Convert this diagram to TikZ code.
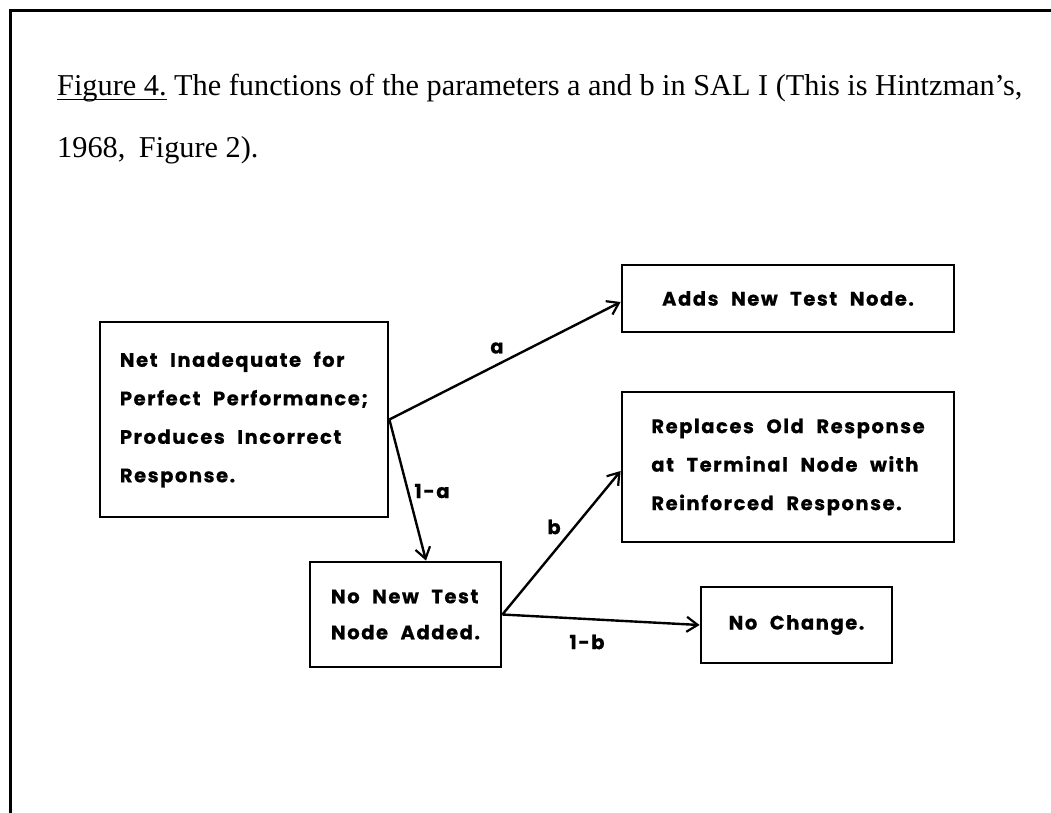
\documentclass[tikz,border=0pt]{standalone}
\usepackage{fontspec}
\setmainfont{Liberation Serif}
\newfontfamily\lettering{Poppins}[LetterSpace=8, WordSpace=2.2, BoldFeatures={FakeBold=0.6}]
\usetikzlibrary{arrows.meta,calc}

% underline drawn as a rule through the descenders
\newcommand\capul[1]{\setbox0\hbox{#1}\rlap{\rule[-5pt]{\wd0}{1.4pt}}\box0}

\tikzset{
  frameline/.style={line width=3pt, line cap=rect},
  caption/.style={anchor=base west, inner sep=0pt, font=\fontsize{30.3}{36}\selectfont},
  stagebox/.style={draw, line width=2.8pt, align=left, inner sep=0pt,
    font=\lettering\bfseries\fontsize{19.5}{38.5}\selectfont},
  flow/.style={line width=2.4pt, -{Straight Barb[length=11pt,width=15pt,line width=2.2pt]}},
  prob/.style={inner sep=0pt, font=\lettering\bfseries\fontsize{19.5}{20}\selectfont}
}

\begin{document}
\begin{tikzpicture}[x=1pt, y=-1pt]
  \useasboundingbox (0,0) rectangle (1051,812);

  % page frame (top and left edges)
  \coordinate (fr-tl) at (10,10);
  \coordinate (fr-tr) at (1060,10);
  \coordinate (fr-bl) at (10,820);
  \draw[frameline] (fr-tr) -- (fr-tl) -- (fr-bl);

  % caption
  \node[caption] (cap1) at (57,95) {\capul{Figure 4.}\ The functions of the parameters a and b in SAL I (This is Hintzman's,};
  \node[caption] (cap2) at (57,157) {1968,\hspace{0.45em}Figure 2).};

  % stages
  \node[stagebox, minimum width=288pt, minimum height=195pt] (A) at (244,419.5)
    {Net Inadequate for\\Perfect Performance;\\Produces Incorrect\\Response.};
  \node[stagebox, minimum width=332pt, minimum height=67pt] (B) at (788,298.5)
    {Adds New Test Node.};
  \node[stagebox, minimum width=332pt, minimum height=150pt] (C) at (788,467)
    {Replaces Old Response\\at Terminal Node with\\Reinforced Response.};
  \node[stagebox, minimum width=191pt, minimum height=76pt] (D) at (796.5,625)
    {No Change.};
  \node[stagebox, minimum width=191pt, minimum height=105pt, font=\lettering\bfseries\fontsize{19.5}{36}\selectfont] (E) at (405.5,614.5)
    {No New Test\\Node Added.};

  % transitions
  \draw[flow] (A.east) -- ($(B.west)+(0,3.5)$);
  \draw[flow] (A.east) -- ($(E.north)+(20.5,0)$);
  \draw[flow] (E.east) -- ($(C.west)+(0,4)$);
  \draw[flow] (E.east) -- (D.west);

  % transition probabilities
  \node[prob] (pa) at (497,348) {a};
  \node[prob] (p1a) at (432,491) {1-a};
  \node[prob] (pb) at (554,527) {b};
  \node[prob] (p1b) at (587,642) {1-b};
\end{tikzpicture}
\end{document}
